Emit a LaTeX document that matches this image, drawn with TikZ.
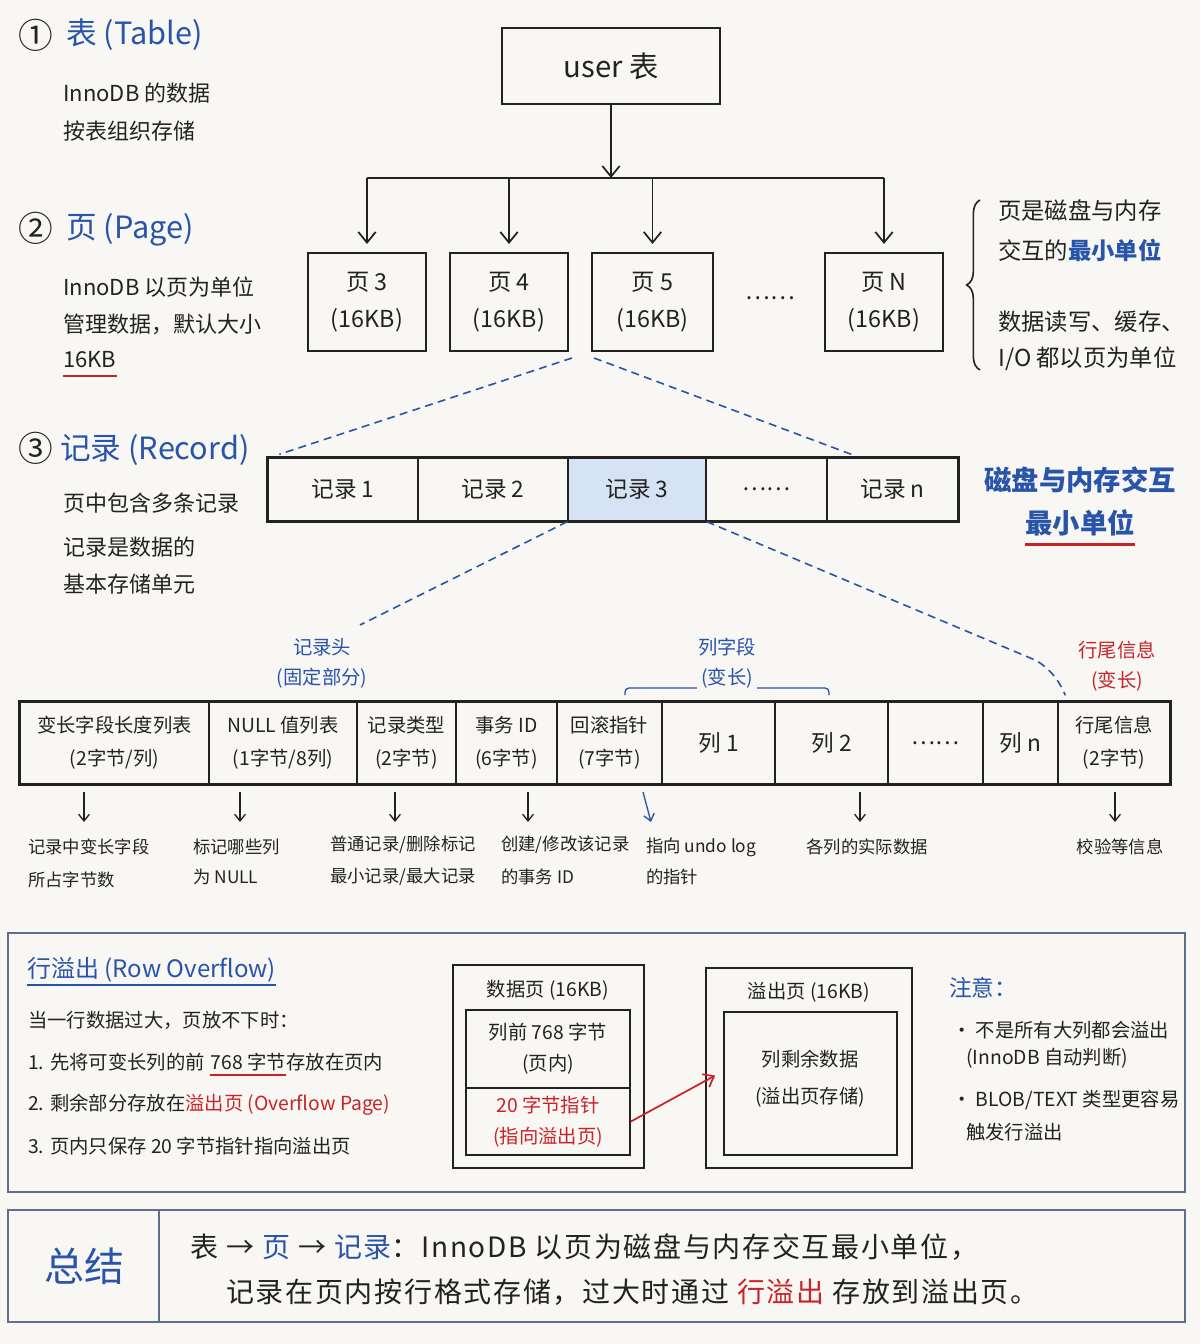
\documentclass[tikz,border=0pt]{standalone}
\usepackage{fontspec}
\setmainfont{Noto Sans CJK SC}
\newfontfamily\sumfont[LetterSpace=6.0]{Noto Sans CJK SC}
\usetikzlibrary{arrows.meta,decorations.pathreplacing,calc}
\definecolor{bg}{RGB}{248,247,243}
\definecolor{ink}{RGB}{34,34,34}
\definecolor{myblue}{RGB}{40,84,170}
\definecolor{myred}{RGB}{200,35,40}
\definecolor{cellblue}{RGB}{214,227,244}
\definecolor{framec}{RGB}{95,110,140}
\newcommand{\pxbox}[7]{\node[#6, minimum width={(#4-#2)*0.75pt}, minimum height={(#5-#3)*0.75pt}] (#1) at ({(#2+#4)/2},{(#3+#5)/2}) {#7};}
\begin{document}
\begin{tikzpicture}[x=0.75pt,y=-0.75pt,
 box/.style={draw=ink,line width=1.5pt,inner sep=0pt,align=center,text=ink},
 cellbox/.style={draw=ink,line width=1pt,inner sep=0pt,align=center,text=ink},
 framebox/.style={draw=framec,line width=1.3pt,inner sep=0pt},
 txt/.style={inner sep=0pt,text=ink},
 lft/.style={font=\fontsize{16.5}{20}\selectfont},
 ttl/.style={text=myblue,font=\fontsize{23}{28}\selectfont},
 num/.style={font=\fontsize{26}{30}\selectfont},
 pgf/.style={font=\fontsize{17.5}{27.75}\selectfont},
 recf/.style={font=\fontsize{17}{20}\selectfont},
 fld/.style={font=\fontsize{14.5}{24.75}\selectfont},
 dsc/.style={font=\fontsize{13}{16}\selectfont},
 ovt/.style={font=\fontsize{14.5}{23.25}\selectfont},
 arr/.style={draw=ink,line width=1.3pt,-{Straight Barb[length=8pt,width=13pt,line width=1.3pt]}},
 sarr/.style={draw=ink,line width=1pt,-{Straight Barb[length=5pt,width=8pt,line width=1pt]}},
 dsh/.style={draw=myblue,line width=1.2pt,dash pattern=on 6pt off 4pt}]
\fill[bg] (0,0) rectangle (1200,1344);
\useasboundingbox (0,0) rectangle (1200,1344);

% ---------- left column ----------
\node[txt,num] (c1) at (36,35) {①};
\node[txt,ttl,anchor=west] (t1) at (66,35) {表 (Table)};
\node[txt,lft,anchor=west] (t1a) at (63,93) {InnoDB 的数据};
\node[txt,lft,anchor=west] (t1b) at (63,131) {按表组织存储};
\node[txt,num] (c2) at (36,228) {②};
\node[txt,ttl,anchor=west] (t2) at (66,230) {页 (Page)};
\node[txt,lft,anchor=west] (t2a) at (63,287) {InnoDB 以页为单位};
\node[txt,lft,anchor=west] (t2b) at (63,324) {管理数据，默认大小};
\node[txt,lft,anchor=west] (kb) at (63,360) {16KB};
\draw[myred,line width=1.5pt] ([yshift=-6pt]kb.south west) -- ([yshift=-6pt]kb.south east);
\node[txt,num] (c3) at (36,448) {③};
\node[txt,ttl,anchor=west] (t3) at (60,450) {记录 (Record)};
\node[txt,lft,anchor=west] (t3a) at (63,503) {页中包含多条记录};
\node[txt,lft,anchor=west] (t3b) at (63,547) {记录是数据的};
\node[txt,lft,anchor=west] (t3c) at (63,584) {基本存储单元};

% ---------- table and pages ----------
\pxbox{user}{502}{28}{720}{104}{box,font=\fontsize{22}{26}\selectfont}{user 表}
\coordinate (hub) at (611,178);
\draw[arr] (user.south) -- (hub);
\pxbox{p3}{308}{253}{426}{351}{box,pgf}{页 3\\(16KB)}
\pxbox{p4}{450}{253}{568}{351}{box,pgf}{页 4\\(16KB)}
\pxbox{p5}{592}{253}{713}{351}{box,pgf}{页 5\\(16KB)}
\pxbox{pN}{825}{253}{943}{351}{box,pgf}{页 N\\(16KB)}
\node[txt,pgf] (pdots) at (770,298) {……};
\draw[ink,line width=1.3pt] (p3.north |- hub) -- (pN.north |- hub);
\foreach \p in {p3,p4,p5,pN}{\draw[arr,shorten >=6pt] (\p.north |- hub) -- (\p.north);}

% brace and notes
\draw[ink,line width=1.2pt,decorate,decoration={brace,amplitude=10pt}] (980,370) -- (980,200);
\node[txt,anchor=west,font=\fontsize{17.5}{20}\selectfont] (b1) at (998,211) {页是磁盘与内存};
\node[txt,anchor=west,font=\fontsize{17.5}{20}\selectfont] (b2) at (998,250) {交互的\textcolor{myblue}{\bfseries 最小单位}};
\node[txt,anchor=west,font=\fontsize{17.5}{20}\selectfont] (b3) at (998,322) {数据读写、缓存、};
\node[txt,anchor=west,font=\fontsize{17.5}{20}\selectfont] (b4) at (998,359) {I/O 都以页为单位};

% ---------- records ----------
\pxbox{r1}{268}{458}{418}{521}{cellbox,recf}{记录 1}
\pxbox{r2}{418}{458}{568}{521}{cellbox,recf}{记录 2}
\pxbox{r3}{568}{458}{706}{521}{cellbox,recf,fill=cellblue}{记录 3}
\pxbox{rd}{706}{458}{827}{521}{cellbox,recf}{……}
\pxbox{rn}{827}{458}{958}{521}{cellbox,recf}{记录 n}
\draw[ink,line width=1.8pt] (r1.north west) rectangle (rn.south east);
\coordinate (fanL) at ($(p5.south west)+(-19,6)$);
\coordinate (fanR) at ($(p5.south west)+(3,6)$);
\draw[dsh] (fanL) -- ($(r1.north west)+(12,-3)$);
\draw[dsh] (fanR) -- ($(rn.north west)+(25,-3)$);
\node[txt,text=myblue,font=\fontsize{20.5}{24}\bfseries\selectfont] (mu1) at (1080,480) {磁盘与内存交互};
\node[txt,text=myblue,font=\fontsize{20.5}{24}\bfseries\selectfont] (mu2) at (1080,523) {最小单位};
\draw[myred,line width=1.8pt] ([yshift=-6pt]mu2.south west) -- ([yshift=-6pt]mu2.south east);

% ---------- record format ----------
\node[txt,text=myblue,fld] (hd1) at (322,647) {记录头};
\node[txt,text=myblue,fld] (hd2) at (322,678) {(固定部分)};
\node[txt,text=myblue,fld] (cf1) at (727,647) {列字段};
\node[txt,text=myblue,fld] (cf2) at (727,678) {(变长)};
\draw[myblue,line width=1pt,rounded corners=3pt] (625,695) -- (625,688) -- ($(cf2.west)+(-4,10)$);
\draw[myblue,line width=1pt,rounded corners=3pt] ($(cf2.east)+(4,10)$) -- (829,688) -- (829,695);
\node[txt,text=myred,fld] (tl1) at (1117,650) {行尾信息};
\node[txt,text=myred,fld] (tl2) at (1117,681) {(变长)};

\pxbox{f1}{20}{702}{209}{784}{cellbox,fld}{变长字段长度列表\\(2字节/列)}
\pxbox{f2}{209}{702}{357}{784}{cellbox,fld}{NULL 值列表\\(1字节/8列)}
\pxbox{f3}{357}{702}{456}{784}{cellbox,fld}{记录类型\\(2字节)}
\pxbox{f4}{456}{702}{557}{784}{cellbox,fld}{事务 ID\\(6字节)}
\pxbox{f5}{557}{702}{662}{784}{cellbox,fld}{回滚指针\\(7字节)}
\pxbox{f6}{662}{702}{775}{784}{cellbox,font=\fontsize{17}{20}\selectfont}{列 1}
\pxbox{f7}{775}{702}{888}{784}{cellbox,font=\fontsize{17}{20}\selectfont}{列 2}
\pxbox{f8}{888}{702}{983}{784}{cellbox,font=\fontsize{17}{20}\selectfont}{……}
\pxbox{f9}{983}{702}{1058}{784}{cellbox,font=\fontsize{17}{20}\selectfont}{列 n}
\pxbox{f10}{1058}{702}{1170}{784}{cellbox,fld}{行尾信息\\(2字节)}
\draw[ink,line width=2pt] (f1.north west) rectangle (f10.south east);
\draw[dsh] (r3.south west) -- (360,625);
\draw[dsh] (r3.south east) -- (1035,660) .. controls (1050,668) and (1060,682) .. ($(f10.north west)+(8,-6)$);

% ---------- descriptions ----------
\node[txt,dsc,anchor=west] (d1a) at (28,847) {记录中变长字段};
\node[txt,dsc,anchor=west] (d1b) at (28,880) {所占字节数};
\node[txt,dsc,anchor=west] (d2a) at (193,847) {标记哪些列};
\node[txt,dsc,anchor=west] (d2b) at (193,877) {为 NULL};
\node[txt,dsc,anchor=west] (d3a) at (330,845) {普通记录/删除标记};
\node[txt,dsc,anchor=west] (d3b) at (330,877) {最小记录/最大记录};
\node[txt,dsc,anchor=west] (d4a) at (501,845) {创建/修改该记录};
\node[txt,dsc,anchor=west] (d4b) at (501,877) {的事务 ID};
\node[txt,dsc,anchor=west] (d5a) at (646,847) {指向 undo log};
\node[txt,dsc,anchor=west] (d5b) at (646,877) {的指针};
\node[txt,dsc] (d6) at (867,847) {各列的实际数据};
\node[txt,dsc] (d7) at (1120,847) {校验等信息};
\draw[sarr] (84,792) -- (84,822);
\draw[sarr] (240,792) -- (240,822);
\draw[sarr] (395,792) -- (395,822);
\draw[sarr] (528,792) -- (528,822);
\draw[sarr,draw=myblue] (643,792) -- (651,822);
\draw[sarr] (860,792) -- (860,822);
\draw[sarr] (1115,792) -- (1115,822);

% ---------- row overflow ----------
\pxbox{ovf}{8}{933}{1185}{1192}{framebox}{}
\node[txt,anchor=west,text=myblue,font=\fontsize{18}{22}\selectfont] (ot) at (27,970) {行溢出 (Row Overflow)};
\draw[myblue,line width=1.6pt] ([yshift=-2pt]ot.south west) -- ([yshift=-2pt]ot.south east);
\node[txt,ovt,anchor=west] (l0) at (28,1020) {当一行数据过大，页放不下时：};
\node[txt,ovt,anchor=west] (l1a) at (28,1062) {1. 先将可变长列的前};
\node[txt,ovt,anchor=west] (l1u) at ([xshift=4pt]l1a.east) {768 字节};
\node[txt,ovt,anchor=west] (l1c) at (l1u.east) {存放在页内};
\draw[myred,line width=1.4pt] ([yshift=-3pt]l1u.south west) -- ([yshift=-3pt]l1u.south east);
\node[txt,ovt,anchor=west] (l2) at (28,1105) {2. 剩余部分存放在\textcolor{myred}{溢出页 (Overflow Page)}};
\node[txt,ovt,anchor=west] (l3) at (28,1146) {3. 页内只保存 20 字节指针指向溢出页};

\pxbox{dp}{453}{965}{644}{1168}{box,line width=1.3pt}{}
\node[txt,ovt] (dpt) at (548,990) {数据页 (16KB)};
\pxbox{dpa}{466}{1010}{630}{1088}{box,line width=1.3pt,ovt}{列前 768 字节\\(页内)}
\pxbox{dpb}{466}{1088}{630}{1155}{box,line width=1.3pt,ovt,text=myred}{20 字节指针\\(指向溢出页)}
\pxbox{op}{706}{968}{912}{1168}{box,line width=1.3pt}{}
\node[txt,ovt] (opt) at (809,992) {溢出页 (16KB)};
\pxbox{opi}{724}{1012}{897}{1155}{box,line width=1.3pt}{}
\node[txt,ovt,align=center,font=\fontsize{14.5}{27.75}\selectfont] (opx) at (810,1079) {列剩余数据\\(溢出页存储)};
\draw[myred,line width=1.3pt,-{Straight Barb[length=7pt,width=11pt,line width=1.3pt]}] (dpb.east) -- ($(opi.west)+(-8,-8)$);

\node[txt,anchor=west,text=myblue,font=\fontsize{17}{20}\selectfont] (nt) at (949,988) {注意：};
\node[txt,ovt,anchor=west] (n1) at (952,1030) {• 不是所有大列都会溢出};
\node[txt,ovt,anchor=west] (n2) at (966,1058) {(InnoDB 自动判断)};
\node[txt,ovt,anchor=west] (n3) at (952,1100) {• BLOB/TEXT 类型更容易};
\node[txt,ovt,anchor=west] (n4) at (966,1132) {触发行溢出};

% ---------- summary ----------
\pxbox{sum}{8}{1210}{1185}{1322}{framebox}{}
\draw[framec,line width=1.3pt] ($(sum.north west)+(152,0)$) -- ($(sum.south west)+(152,0)$);
\node[txt,text=myblue,font=\fontsize{30}{34}\selectfont] (sumt) at (84,1266) {总结};
\node[txt,anchor=west,font=\sumfont\fontsize{21}{26}\selectfont] (s1) at (190,1247) {表 → \textcolor{myblue}{页} → \textcolor{myblue}{记录}：InnoDB 以页为磁盘与内存交互最小单位，};
\node[txt,anchor=west,font=\sumfont\fontsize{21}{26}\selectfont] (s2) at (226,1292) {记录在页内按行格式存储，过大时通过 \textcolor{myred}{行溢出} 存放到溢出页。};
\end{tikzpicture}
\end{document}
